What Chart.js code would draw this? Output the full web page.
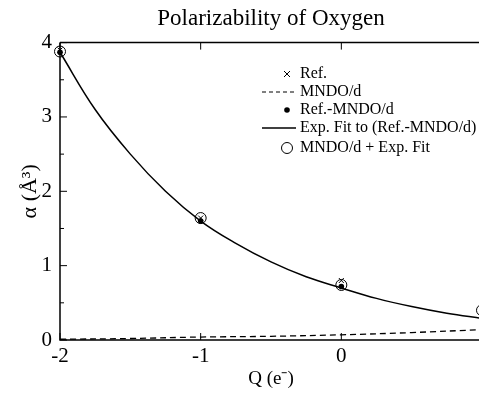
<!DOCTYPE html>
<html>
<head>
<meta charset="utf-8">
<script src="https://cdn.jsdelivr.net/npm/chart.js@4.4.1/dist/chart.umd.min.js"></script>
<style>
  html, body { margin: 0; padding: 0; background: #fff; overflow: hidden; }
  #wrap { width: 482px; height: 396px; }
</style>
</head>
<body>
<div id="wrap"><canvas id="polChart"></canvas></div>
<script>
// Data
const qPoints = [-2, -1, 0, 1];
const refValues = [3.90, 1.64, 0.80, 0.42];
const diffValues = [3.87, 1.60, 0.72, 0.30];
const sumValues = [3.88, 1.64, 0.74, 0.40];

const mndoQ = [-2, -1.5, -1, -0.5, 0, 0.5, 1];
const mndoValues = [0.01, 0.02, 0.04, 0.05, 0.07, 0.10, 0.14];

const fitQ = [-2, -1.75, -1.5, -1.25, -1, -0.75, -0.5, -0.25, 0, 0.25, 0.5, 0.75, 1];
const fitValues = [3.87, 3.10, 2.50, 2.00, 1.60, 1.30, 1.05, 0.85, 0.70, 0.56, 0.45, 0.36, 0.29];

// the right end of the plot (Q = 1) is cut off in the picture, so no label there
const xTickLabels = [-2, -1, 0];
const xTickMarks = [-2, -1, 0, 1];
const yTicks = [0, 1, 2, 3, 4];

const legendLabels = ['Ref.', 'MNDO/d', 'Ref.-MNDO/d', 'Exp. Fit to (Ref.-MNDO/d)', 'MNDO/d + Exp. Fit'];

const serif = 'Liberation Serif';

function toXY(xs, ys) {
  return xs.map((x, i) => ({ x: x, y: ys[i] }));
}

// axis lines and inward tick marks, like the original plot
const axesPlugin = {
  id: 'axesPlugin',
  afterDatasetsDraw(chart) {
    const ctx = chart.ctx;
    const a = chart.chartArea;
    const xs = chart.scales.x;
    const ys = chart.scales.y;
    ctx.save();
    ctx.strokeStyle = '#000';
    ctx.lineWidth = 1.5;
    ctx.beginPath();
    ctx.moveTo(a.left, a.top);
    ctx.lineTo(a.right + 5, a.top);
    ctx.moveTo(a.left, a.top);
    ctx.lineTo(a.left, a.bottom);
    ctx.lineTo(a.right + 5, a.bottom);
    ctx.stroke();
    ctx.lineWidth = 1;
    ctx.beginPath();
    xTickMarks.forEach(v => {
      const px = xs.getPixelForValue(v);
      ctx.moveTo(px, a.bottom);
      ctx.lineTo(px, a.bottom - 7);
      ctx.moveTo(px, a.top);
      ctx.lineTo(px, a.top + 7);
    });
    for (let v = 0; v <= 4; v += 0.5) {
      const py = ys.getPixelForValue(v);
      const len = Number.isInteger(v) ? 7 : 4;
      ctx.moveTo(a.left, py);
      ctx.lineTo(a.left + len, py);
    }
    ctx.stroke();
    ctx.restore();
  }
};

// legend drawn inside the plot, symbol column then text
const legendPlugin = {
  id: 'insideLegend',
  afterDraw(chart) {
    const ctx = chart.ctx;
    const symX = 287;
    const textX = 300;
    const rows = [74, 92, 110, 128, 148];
    ctx.save();
    ctx.fillStyle = '#000';
    ctx.strokeStyle = '#000';
    ctx.font = '16px "' + serif + '"';
    ctx.textBaseline = 'middle';
    legendLabels.forEach((t, i) => {
      ctx.fillText(t, textX, rows[i]);
    });
    ctx.lineWidth = 1;
    // x mark
    ctx.beginPath();
    ctx.moveTo(symX - 3, rows[0] - 3); ctx.lineTo(symX + 3, rows[0] + 3);
    ctx.moveTo(symX + 3, rows[0] - 3); ctx.lineTo(symX - 3, rows[0] + 3);
    ctx.stroke();
    // dashed line
    ctx.setLineDash([4, 3]);
    ctx.beginPath();
    ctx.moveTo(textX - 38, rows[1]); ctx.lineTo(textX - 4, rows[1]);
    ctx.stroke();
    ctx.setLineDash([]);
    // dot
    ctx.beginPath();
    ctx.arc(symX, rows[2], 2.8, 0, Math.PI * 2);
    ctx.fill();
    // solid line
    ctx.lineWidth = 1.5;
    ctx.beginPath();
    ctx.moveTo(textX - 38, rows[3]); ctx.lineTo(textX - 4, rows[3]);
    ctx.stroke();
    // circle
    ctx.lineWidth = 1;
    ctx.beginPath();
    ctx.arc(symX, rows[4], 5.5, 0, Math.PI * 2);
    ctx.stroke();
    ctx.restore();
  }
};

const ctx = document.getElementById('polChart').getContext('2d');
new Chart(ctx, {
  type: 'scatter',
  data: {
    datasets: [
      {
        label: 'MNDO/d',
        data: toXY(mndoQ, mndoValues),
        showLine: true,
        borderColor: '#000',
        borderWidth: 1.3,
        borderDash: [6, 4],
        pointRadius: 0,
        tension: 0.4,
        clip: false
      },
      {
        label: 'Exp. Fit to (Ref.-MNDO/d)',
        data: toXY(fitQ, fitValues),
        showLine: true,
        borderColor: '#000',
        borderWidth: 1.5,
        pointRadius: 0,
        tension: 0.4,
        clip: false
      },
      {
        label: 'Ref.',
        data: toXY(qPoints, refValues),
        pointStyle: 'crossRot',
        pointRadius: 3.5,
        borderColor: '#000',
        borderWidth: 1,
        clip: false
      },
      {
        label: 'Ref.-MNDO/d',
        data: toXY(qPoints, diffValues),
        pointStyle: 'circle',
        pointRadius: 2.8,
        backgroundColor: '#000',
        borderColor: '#000',
        borderWidth: 0,
        clip: false
      },
      {
        label: 'MNDO/d + Exp. Fit',
        data: toXY(qPoints, sumValues),
        pointStyle: 'circle',
        pointRadius: 5.5,
        backgroundColor: 'rgba(0,0,0,0)',
        borderColor: '#000',
        borderWidth: 1,
        clip: false
      }
    ]
  },
  options: {
    responsive: true,
    maintainAspectRatio: false,
    animation: false,
    layout: { autoPadding: false, padding: { left: 0, right: 0, top: 0, bottom: 0 } },
    plugins: {
      legend: { display: false },
      tooltip: { enabled: false },
      title: {
        display: true,
        fullSize: false,
        text: 'Polarizability of Oxygen',
        color: '#000',
        font: { family: serif, size: 23, weight: 'normal' },
        padding: { top: 5, bottom: 10 }
      }
    },
    scales: {
      x: {
        type: 'linear',
        min: -2,
        max: 1,
        afterFit(scale) { scale.height = 56; },
        afterBuildTicks(scale) { scale.ticks = xTickLabels.map(v => ({ value: v })); },
        grid: { display: false },
        border: { display: false },
        ticks: {
          color: '#000',
          padding: -4,
          font: { family: serif, size: 21 },
          maxRotation: 0
        },
        title: {
          display: true,
          text: 'Q (e\u207B)',
          color: '#000',
          font: { family: serif, size: 19 },
          padding: { top: 0, bottom: 6 }
        }
      },
      y: {
        type: 'linear',
        min: 0,
        max: 4,
        afterFit(scale) { scale.width = 60; },
        afterBuildTicks(scale) { scale.ticks = yTicks.map(v => ({ value: v })); },
        grid: { display: false },
        border: { display: false },
        ticks: {
          color: '#000',
          padding: 0,
          font: { family: serif, size: 21 }
        },
        title: {
          display: true,
          text: '\u03B1 (\u00C5\u00B3)',
          color: '#000',
          font: { family: serif, size: 22 },
          padding: { top: 17, bottom: 0 }
        }
      }
    }
  },
  plugins: [axesPlugin, legendPlugin]
});
</script>
</body>
</html>
